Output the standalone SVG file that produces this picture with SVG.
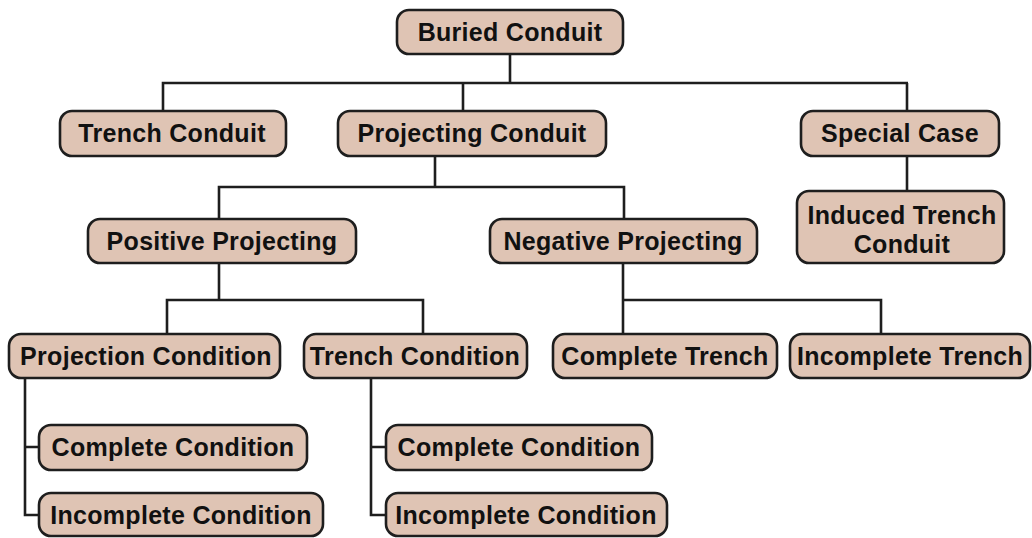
<svg xmlns="http://www.w3.org/2000/svg" width="1032" height="538" viewBox="0 0 1032 538">
<style>
.box{fill:#dfc4b4;stroke:#1e1e1e;stroke-width:2.6}
.t{font-family:"Liberation Sans",Arial,sans-serif;font-weight:bold;font-size:25px;letter-spacing:0.3px;fill:#111;text-anchor:middle}
.c{fill:none;stroke:#1e1e1e;stroke-width:2.6;stroke-linejoin:miter}
</style>
<rect width="1032" height="538" fill="#ffffff"/>
<g id="connectors">
<path class="c" d="M510 54V83M163 111V83H908M463 83V111M907 83V111"/>
<path class="c" d="M907 156V191"/>
<path class="c" d="M435 156V187M219 219V187H624V219"/>
<path class="c" d="M219 263V300M167 334V300H423V334"/>
<path class="c" d="M623 263V334M623 300H881V334"/>
<path class="c" d="M25 378V515H39M25 447H39"/>
<path class="c" d="M371 378V515H386M371 447H386"/>
</g>
<g id="buried-conduit"><rect class="box" x="397" y="10" width="226" height="44" rx="12"/><text class="t" x="510" y="41">Buried Conduit</text></g>
<g id="trench-conduit"><rect class="box" x="60" y="111" width="226" height="45" rx="12"/><text class="t" x="172" y="142">Trench Conduit</text></g>
<g id="projecting-conduit"><rect class="box" x="338" y="111" width="268" height="45" rx="12"/><text class="t" x="472" y="142">Projecting Conduit</text></g>
<g id="special-case"><rect class="box" x="801" y="111" width="198" height="45" rx="12"/><text class="t" x="900" y="142">Special Case</text></g>
<g id="induced-trench-conduit"><rect class="box" x="797" y="191" width="207" height="72" rx="12"/><text class="t" x="902" y="224">Induced Trench</text><text class="t" x="902" y="253">Conduit</text></g>
<g id="positive-projecting"><rect class="box" x="88" y="219" width="268" height="44" rx="12"/><text class="t" x="222" y="250">Positive Projecting</text></g>
<g id="negative-projecting"><rect class="box" x="490" y="219" width="267" height="44" rx="12"/><text class="t" x="623" y="250">Negative Projecting</text></g>
<g id="projection-condition"><rect class="box" x="9" y="334" width="271" height="44" rx="12"/><text class="t" x="146" y="365">Projection Condition</text></g>
<g id="trench-condition"><rect class="box" x="304" y="334" width="223" height="44" rx="12"/><text class="t" x="415" y="365">Trench Condition</text></g>
<g id="complete-trench"><rect class="box" x="553" y="334" width="224" height="44" rx="12"/><text class="t" x="665" y="365">Complete Trench</text></g>
<g id="incomplete-trench"><rect class="box" x="790" y="334" width="240" height="44" rx="12"/><text class="t" x="910" y="365">Incomplete Trench</text></g>
<g id="complete-condition-1"><rect class="box" x="39" y="425" width="268" height="45" rx="12"/><text class="t" x="173" y="456">Complete Condition</text></g>
<g id="incomplete-condition-1"><rect class="box" x="39" y="493" width="284" height="43" rx="12"/><text class="t" x="181" y="524">Incomplete Condition</text></g>
<g id="complete-condition-2"><rect class="box" x="386" y="425" width="266" height="45" rx="12"/><text class="t" x="519" y="456">Complete Condition</text></g>
<g id="incomplete-condition-2"><rect class="box" x="386" y="493" width="281" height="43" rx="12"/><text class="t" x="526" y="524">Incomplete Condition</text></g>
</svg>
